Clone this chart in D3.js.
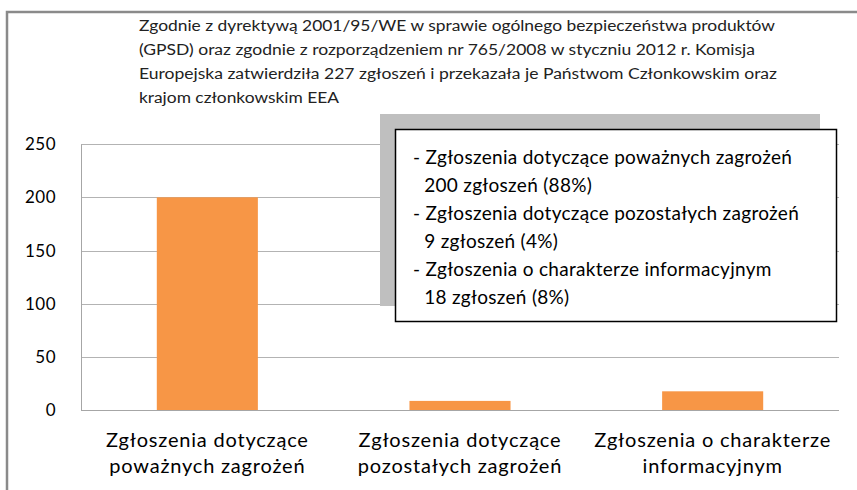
<!DOCTYPE html>
<html>
<head>
<meta charset="utf-8">
<script src="https://cdn.jsdelivr.net/npm/d3@7"></script>
<style>
  body { margin: 0; background: #fff; }
  svg { display: block; font-family: Lato, "Open Sans", sans-serif; }
</style>
</head>
<body>
<div id="chart"></div>
<script>
// chart data
const categories = [
  ["Zgłoszenia dotyczące", "poważnych zagrożeń"],
  ["Zgłoszenia dotyczące", "pozostałych zagrożeń"],
  ["Zgłoszenia o charakterze", "informacyjnym"]
];
const values = [200, 9, 18];
const yTicks = [0, 50, 100, 150, 200, 250];

const titleLines = [
  "Zgodnie z dyrektywą 2001/95/WE w sprawie ogólnego bezpieczeństwa produktów",
  "(GPSD) oraz zgodnie z rozporządzeniem nr 765/2008 w styczniu 2012 r. Komisja",
  "Europejska zatwierdziła 227 zgłoszeń i przekazała je Państwom Członkowskim oraz",
  "krajom członkowskim EEA"
];
const noteLines = [
  "- Zgłoszenia dotyczące poważnych zagrożeń",
  " 200 zgłoszeń (88%)",
  "- Zgłoszenia dotyczące pozostałych zagrożeń",
  " 9 zgłoszeń (4%)",
  "- Zgłoszenia o charakterze informacyjnym",
  " 18 zgłoszeń (8%)"
];

const W = 857, H = 490;
const plot = { left: 81, right: 839, top: 144, bottom: 410.5 };

const svg = d3.select("#chart").append("svg")
  .attr("width", W)
  .attr("height", H);

// outer frame (runs off the right and bottom edge)
svg.append("rect")
  .attr("x", 7).attr("y", 12)
  .attr("width", 900).attr("height", 600)
  .attr("fill", "#fff")
  .attr("stroke", "#8a8a8a")
  .attr("stroke-width", 2.5);

const x = d3.scaleBand()
  .domain(d3.range(values.length))
  .range([plot.left, plot.right])
  .paddingInner(0.6)
  .paddingOuter(0.3);

const y = d3.scaleLinear()
  .domain([0, 250])
  .range([plot.bottom, plot.top]);

// gridlines
svg.append("g")
  .selectAll("line")
  .data(yTicks.filter(d => d > 0))
  .join("line")
  .attr("x1", plot.left).attr("x2", plot.right)
  .attr("y1", d => Math.round(y(d)) + 0.5)
  .attr("y2", d => Math.round(y(d)) + 0.5)
  .attr("stroke", "#b3b3b3")
  .attr("stroke-width", 1);

// y axis
const yAxis = svg.append("g")
  .attr("transform", "translate(" + plot.left + ",0)")
  .call(d3.axisLeft(y).tickValues(yTicks).tickSize(0).tickPadding(25));
yAxis.select(".domain").attr("stroke", "#a6a6a6");
yAxis.selectAll("text")
  .attr("font-family", "Lato, sans-serif")
  .attr("font-size", 17)
  .attr("letter-spacing", 0.5)
  .attr("fill", "#000");

// bars
svg.append("g")
  .selectAll("rect")
  .data(values)
  .join("rect")
  .attr("x", (d, i) => x(i))
  .attr("y", d => y(d))
  .attr("width", x.bandwidth())
  .attr("height", d => y(0) - y(d))
  .attr("fill", "#F79646");

// x axis line
svg.append("line")
  .attr("x1", plot.left).attr("x2", plot.right)
  .attr("y1", plot.bottom).attr("y2", plot.bottom)
  .attr("stroke", "#a6a6a6");

// category labels
const cat = svg.append("g")
  .selectAll("text")
  .data(categories)
  .join("text")
  .attr("text-anchor", "middle")
  .attr("font-size", 20)
  .attr("letter-spacing", 0.8)
  .attr("fill", "#000");
cat.selectAll("tspan")
  .data((d, i) => d.map(t => ({ t, i })))
  .join("tspan")
  .attr("x", d => x(d.i) + x.bandwidth() / 2)
  .attr("y", (d, j) => 447 + j * 26)
  .text(d => d.t);

// title
const titleEnds = [775, 755, 777, 339];
svg.append("g")
  .selectAll("text")
  .data(titleLines)
  .join("text")
  .attr("x", 139)
  .attr("y", (d, i) => 31 + i * 24)
  .attr("font-size", 15.5)
  .attr("fill", "#222")
  .attr("textLength", (d, i) => titleEnds[i] - 139)
  .attr("lengthAdjust", "spacingAndGlyphs")
  .text(d => d);

// note box with shadow
svg.append("rect")
  .attr("x", 380).attr("y", 114)
  .attr("width", 440).attr("height", 192)
  .attr("fill", "#bfbfbf");
svg.append("rect")
  .attr("x", 395.5).attr("y", 129.5)
  .attr("width", 441).attr("height", 192)
  .attr("fill", "#fff")
  .attr("stroke", "#000")
  .attr("stroke-width", 1.5);

svg.append("g")
  .selectAll("text")
  .data(noteLines)
  .join("text")
  .attr("x", d => d.startsWith("-") ? 413 : 419)
  .attr("y", (d, i) => 164 + i * 28)
  .attr("font-size", 19)
  .attr("letter-spacing", 0.3)
  .attr("fill", "#000")
  .attr("xml:space", "preserve")
  .text(d => d);
</script>
</body>
</html>
